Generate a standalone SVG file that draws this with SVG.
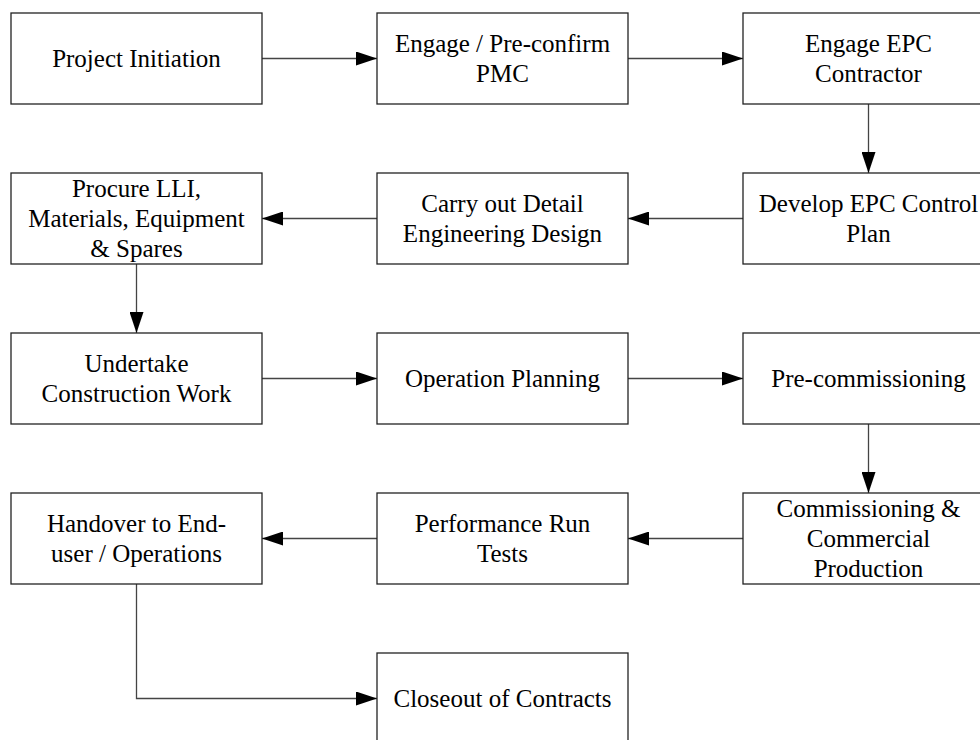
<svg xmlns="http://www.w3.org/2000/svg" width="980" height="740" viewBox="0 0 980 740">
<style>
.box{fill:#fff;stroke:#222;stroke-width:1.3}
.t{font-family:'Liberation Serif','Times New Roman',serif;font-size:25px;fill:#000;text-anchor:middle}
.c{fill:none;stroke:#444;stroke-width:1.3}
</style>
<defs>
<marker id="ah" markerUnits="userSpaceOnUse" markerWidth="21" markerHeight="14" refX="21" refY="7" orient="auto">
<path d="M0,0 L21,7 L0,14 z" fill="#000"/>
</marker>
</defs>
<rect width="980" height="740" fill="#fff"/>
<g id="connectors">
<path class="c" d="M262,58.5 H377" marker-end="url(#ah)"/>
<path class="c" d="M628,58.5 H743" marker-end="url(#ah)"/>
<path class="c" d="M868.5,104 V173" marker-end="url(#ah)"/>
<path class="c" d="M743,218.5 H628" marker-end="url(#ah)"/>
<path class="c" d="M377,218.5 H262" marker-end="url(#ah)"/>
<path class="c" d="M136.5,264 V333" marker-end="url(#ah)"/>
<path class="c" d="M262,378.5 H377" marker-end="url(#ah)"/>
<path class="c" d="M628,378.5 H743" marker-end="url(#ah)"/>
<path class="c" d="M868.5,424 V493" marker-end="url(#ah)"/>
<path class="c" d="M743,538.5 H628" marker-end="url(#ah)"/>
<path class="c" d="M377,538.5 H262" marker-end="url(#ah)"/>
<path class="c" d="M136.5,584 V698.5 H377" marker-end="url(#ah)"/>
</g>
<g id="n1"><rect class="box" x="11" y="13" width="251" height="91"/><text class="t" x="136.5" y="66.5">Project Initiation</text></g>
<g id="n2"><rect class="box" x="377" y="13" width="251" height="91"/><text class="t" x="502.5" y="51.5">Engage / Pre-confirm</text><text class="t" x="502.5" y="81.5">PMC</text></g>
<g id="n3"><rect class="box" x="743" y="13" width="251" height="91"/><text class="t" x="868.5" y="51.5">Engage EPC</text><text class="t" x="868.5" y="81.5">Contractor</text></g>
<g id="n4"><rect class="box" x="743" y="173" width="251" height="91"/><text class="t" x="868.5" y="211.5">Develop EPC Control</text><text class="t" x="868.5" y="241.5">Plan</text></g>
<g id="n5"><rect class="box" x="377" y="173" width="251" height="91"/><text class="t" x="502.5" y="211.5">Carry out Detail</text><text class="t" x="502.5" y="241.5">Engineering Design</text></g>
<g id="n6"><rect class="box" x="11" y="173" width="251" height="91"/><text class="t" x="136.5" y="196.5">Procure LLI,</text><text class="t" x="136.5" y="226.5">Materials, Equipment</text><text class="t" x="136.5" y="256.5">&amp; Spares</text></g>
<g id="n7"><rect class="box" x="11" y="333" width="251" height="91"/><text class="t" x="136.5" y="371.5">Undertake</text><text class="t" x="136.5" y="401.5">Construction Work</text></g>
<g id="n8"><rect class="box" x="377" y="333" width="251" height="91"/><text class="t" x="502.5" y="386.5">Operation Planning</text></g>
<g id="n9"><rect class="box" x="743" y="333" width="251" height="91"/><text class="t" x="868.5" y="386.5">Pre-commissioning</text></g>
<g id="n10"><rect class="box" x="743" y="493" width="251" height="91"/><text class="t" x="868.5" y="516.5">Commissioning &amp;</text><text class="t" x="868.5" y="546.5">Commercial</text><text class="t" x="868.5" y="576.5">Production</text></g>
<g id="n11"><rect class="box" x="377" y="493" width="251" height="91"/><text class="t" x="502.5" y="531.5">Performance Run</text><text class="t" x="502.5" y="561.5">Tests</text></g>
<g id="n12"><rect class="box" x="11" y="493" width="251" height="91"/><text class="t" x="136.5" y="531.5">Handover to End-</text><text class="t" x="136.5" y="561.5">user / Operations</text></g>
<g id="n13"><rect class="box" x="377" y="653" width="251" height="91"/><text class="t" x="502.5" y="706.5">Closeout of Contracts</text></g>
</svg>
